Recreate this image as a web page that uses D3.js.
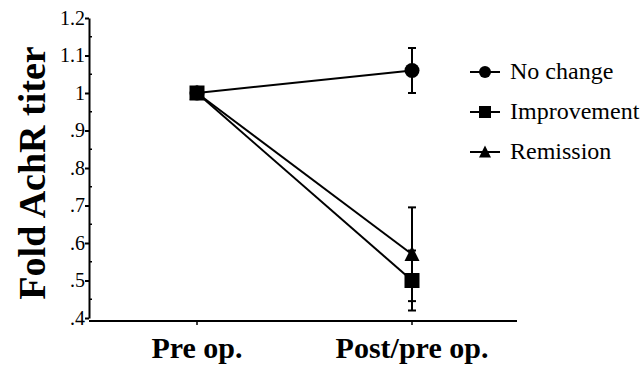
<!DOCTYPE html>
<html><head><meta charset="utf-8">
<script src="https://cdn.jsdelivr.net/npm/d3@7"></script>
<style>body{margin:0;background:#fff}svg{display:block}</style>
</head><body>
<svg id="c" width="643" height="371"></svg>
<script>
const categories = ["Pre op.", "Post/pre op."];
const seriesNames = ["No change", "Improvement", "Remission"];
const seriesSymbols = ["circle", "square", "triangle"];
const noChange = [1.0, 1.06];
const noChangeErr = [0, 0.06];
const improvement = [1.0, 0.50];
const improvementErr = [0, 0.08];
const remission = [1.0, 0.57];
const remissionErr = [0, 0.125];
const yTicks = [0.4, 0.5, 0.6, 0.7, 0.8, 0.9, 1.0, 1.1, 1.2];
const yTickLabels = [".4", ".5", ".6", ".7", ".8", ".9", "1", "1.1", "1.2"];
const yTitle = "Fold AchR titer";

const series = [
  {name: seriesNames[0], sym: seriesSymbols[0], v: noChange, e: noChangeErr},
  {name: seriesNames[1], sym: seriesSymbols[1], v: improvement, e: improvementErr},
  {name: seriesNames[2], sym: seriesSymbols[2], v: remission, e: remissionErr}
];

const svg = d3.select("#c");
const serif = "'Liberation Serif', 'Times New Roman', serif";
const axisX = 89, xAxisY = 321, xEnd = 517;
const y = d3.scaleLinear().domain([0.4, 1.2]).range([318, 18]);
const x = d3.scalePoint().domain(categories).range([197, 412]);

// Y axis
const yAxis = svg.append("g").attr("transform", `translate(${axisX},0)`)
  .call(d3.axisLeft(y).tickValues(yTicks).tickFormat((d, i) => yTickLabels[i]).tickSize(4).tickSizeOuter(0));
yAxis.attr("font-family", null);
yAxis.select(".domain").attr("stroke", "#000").attr("stroke-width", 2);
yAxis.selectAll(".tick line").attr("stroke", "#000").attr("stroke-width", 2);
yAxis.selectAll(".tick text").style("font-family", serif).style("font-size", "20px").attr("fill", "#000").attr("x", -4);
// minor ticks
const minor = d3.range(0, yTicks.length - 1).map(i => (yTicks[i] + yTicks[i + 1]) / 2);
yAxis.selectAll(".minor").data(minor).enter().append("line")
  .attr("x1", 0).attr("x2", 3).attr("y1", d => y(d)).attr("y2", d => y(d))
  .attr("stroke", "#000").attr("stroke-width", 1.5);

// X axis
const xAxis = svg.append("g").attr("transform", `translate(0,${xAxisY})`);
xAxis.append("line").attr("x1", axisX).attr("x2", xEnd).attr("stroke", "#000").attr("stroke-width", 2);
xAxis.selectAll(".xt").data(categories).enter().append("line")
  .attr("x1", d => x(d)).attr("x2", d => x(d)).attr("y1", 0).attr("y2", 4)
  .attr("stroke", "#000").attr("stroke-width", 1.5);
xAxis.selectAll(".xl").data(categories).enter().append("text")
  .attr("x", d => x(d)).attr("y", 37).attr("text-anchor", "middle")
  .style("font-family", serif).style("font-weight", "bold").style("font-size", "30px").attr("fill", "#000")
  .text(d => d);

// Y title
svg.append("text").attr("transform", "translate(45,173) rotate(-90)")
  .attr("text-anchor", "middle").style("font-family", serif).style("font-weight", "bold")
  .style("font-size", "38px").attr("fill", "#000").text(yTitle);

function marker(g, sym, cx, cy, s) {
  if (sym === "circle") g.append("circle").attr("cx", cx).attr("cy", cy).attr("r", s / 2).attr("fill", "#000");
  else if (sym === "square") g.append("rect").attr("x", cx - s / 2).attr("y", cy - s / 2).attr("width", s).attr("height", s).attr("fill", "#000");
  else g.append("path").attr("d", `M${cx},${cy - s * 0.55}L${cx + s / 2},${cy + s * 0.45}L${cx - s / 2},${cy + s * 0.45}Z`).attr("fill", "#000");
}

const plot = svg.append("g");
const line = d3.line().x((d, i) => x(categories[i])).y(d => y(d));
series.forEach(s => {
  plot.append("path").attr("d", line(s.v)).attr("fill", "none").attr("stroke", "#000").attr("stroke-width", 2);
});
series.forEach(s => {
  s.v.forEach((v, i) => {
    if (s.e[i] > 0) {
      const cx = x(categories[i]);
      plot.append("line").attr("x1", cx).attr("x2", cx).attr("y1", y(v - s.e[i])).attr("y2", y(v + s.e[i])).attr("stroke", "#000").attr("stroke-width", 2);
      [v - s.e[i], v + s.e[i]].forEach(t => plot.append("line").attr("x1", cx - 4).attr("x2", cx + 4).attr("y1", y(t)).attr("y2", y(t)).attr("stroke", "#000").attr("stroke-width", 2));
    }
  });
});
series.forEach(s => {
  s.v.forEach((v, i) => marker(plot, s.sym, x(categories[i]), y(v), 15));
});

// Legend
const leg = svg.append("g");
series.forEach((s, i) => {
  const ly = 72 + i * 40;
  leg.append("line").attr("x1", 470).attr("x2", 500).attr("y1", ly).attr("y2", ly).attr("stroke", "#000").attr("stroke-width", 2);
  marker(leg, s.sym, 485, ly, 12);
  leg.append("text").attr("x", 510).attr("y", ly + 7).style("font-family", serif).style("font-size", "24px").attr("fill", "#000").text(s.name);
});
</script>
</body></html>
